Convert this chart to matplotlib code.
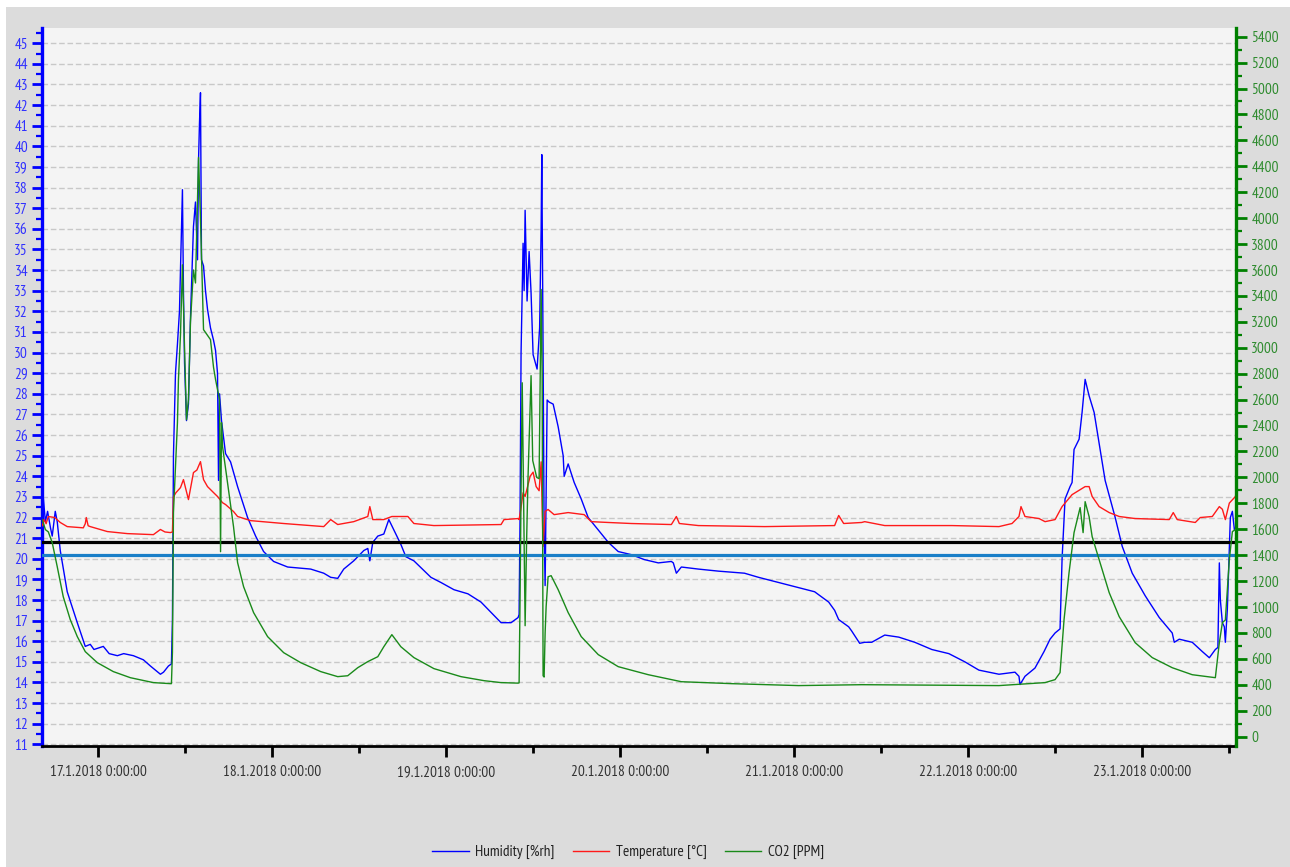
import matplotlib
matplotlib.use('Agg')
import matplotlib.pyplot as plt
from matplotlib.patches import Rectangle
from matplotlib.ticker import MultipleLocator, FixedLocator

plt.rcParams['font.family'] = ['PT Sans Narrow', 'Liberation Sans', 'DejaVu Sans']

# ---------------- data (time in hours since 17.1.2018 0:00) ----------------
hum_t = [-7.74, -7.6, -7.3, -7.0, -6.6, -6.36, -5.94, -5.67, -5.25, -4.29, -2.9, -1.8, -1.11, -0.6,
         0.69, 1.5, 2.63, 3.5, 4.84, 6.22, 7.19, 8.57, 9.0, 9.68, 10.09, 10.23, 10.37, 10.65, 10.92,
         11.2, 11.45, 11.61, 11.75, 11.9, 12.17, 12.44, 12.72, 13.13, 13.41, 13.69, 13.83, 13.96,
         14.10, 14.24, 14.52, 14.79, 15.07, 15.48, 15.9, 16.18, 16.45, 16.59, 16.73, 17.0, 17.56,
         18.25, 19.22, 20.6, 21.71, 22.81, 24.19, 26.13, 29.31, 31.11, 32.07, 33.04, 33.87, 35.25,
         36.64, 37.19, 37.47, 37.88, 38.57, 39.4, 40.09, 40.78, 41.75, 42.44, 43.55, 45.9, 47.28,
         49.08, 51.01, 52.81, 54.19, 55.58, 56.96, 57.93, 58.07, 58.2, 58.34, 58.62, 58.76, 58.9,
         59.17, 59.45, 59.72, 60.0, 60.55, 60.9, 61.11, 61.2, 61.38, 61.52, 61.66, 61.8, 61.94,
         62.21, 62.77, 63.46, 64.15, 64.29, 64.84, 65.67, 66.64, 67.6, 68.99, 70.37, 71.75, 73.55,
         75.35, 77.28, 79.08, 79.35, 79.77, 80.46, 82.81, 85.58, 89.17, 91.11, 93.32, 96.08, 98.85,
         100.79, 101.61, 102.17, 103.55, 103.96, 105.07, 105.76, 106.73, 108.53, 110.46, 112.67,
         115.02, 117.37, 119.59, 121.52, 124.29, 126.5, 127.05, 127.19, 127.88, 129.26, 130.51,
         131.34, 132.03, 132.72, 133.0, 133.41, 134.1, 134.38, 134.65, 135.35, 135.76, 136.18,
         136.73, 137.42, 138.11, 138.94, 140.33, 141.3, 142.68, 144.48, 146.41, 148.2, 148.48,
         149.17, 150.96, 152.35, 153.32, 154.15, 154.5, 154.7, 154.84, 155.12, 155.39, 155.53,
         155.8, 156.08, 156.22, 156.5, 156.78, 157.1, 157.33]
hum_v = [22.6, 23.0, 21.8, 22.3, 21.5, 21.1, 22.3, 21.8, 20.4, 18.4, 16.9, 15.75, 15.85, 15.6,
         15.75, 15.4, 15.3, 15.4, 15.3, 15.1, 14.8, 14.4, 14.5, 14.8, 14.9, 17.0, 25.0, 29.0, 30.4,
         32.0, 35.5, 37.9, 33.0, 29.5, 26.7, 27.5, 31.7, 36.1, 37.3, 34.5, 39.3, 41.1,
         42.6, 34.5, 34.2, 33.0, 32.1, 31.2, 30.6, 30.1, 29.0, 23.8, 28.0, 26.7, 25.1,
         24.7, 23.5, 22.0, 21.1, 20.35, 19.87, 19.6, 19.5, 19.3, 19.1, 19.05, 19.5, 19.9,
         20.4, 20.5, 19.9, 20.8, 21.1, 21.2, 21.9, 21.4, 20.7, 20.1, 19.9, 19.1, 18.85,
         18.5, 18.3, 17.9, 17.4, 16.9, 16.9, 17.15, 17.3, 22.0, 30.0, 35.3, 33.0, 36.9,
         32.5, 34.9, 32.9, 29.9, 29.2, 31.2, 36.0, 39.6, 30.0, 21.5, 18.7, 23.0, 27.7,
         27.6, 27.5, 26.4, 25.0, 24.0, 24.6, 23.7, 22.9, 22.0, 21.4, 20.8, 20.35, 20.2,
         19.96, 19.8, 19.87, 19.8, 19.3, 19.6, 19.5, 19.4, 19.3, 19.1, 18.9, 18.65, 18.4,
         17.9, 17.5, 17.05, 16.7, 16.5, 15.9, 15.95, 15.95, 16.3, 16.2, 15.95,
         15.6, 15.4, 15.0, 14.6, 14.4, 14.5, 14.3, 13.9, 14.3, 14.7, 15.5,
         16.1, 16.4, 16.6, 20.0, 22.9, 23.5, 23.7, 25.3, 25.8, 27.1, 28.7,
         27.9, 27.1, 25.6, 23.8, 22.0, 20.6, 19.3, 18.2, 17.15, 16.4, 15.95,
         16.1, 15.95, 15.5, 15.2, 15.6, 15.7, 19.8, 18.0, 16.9, 16.7, 15.95,
         17.5, 20.6, 22.0, 22.3, 21.4, 21.6, 23.2]

temp_t = [-7.74, -7.47, -7.2, -6.91, -6.0, -5.25, -4.29, -2.07, -1.8, -1.66, -1.4, -1.11, 1.24,
          4.01, 7.6, 8.57, 9.2, 9.95, 10.23, 10.37, 10.7, 11.34, 11.75, 12.44, 13.13, 13.6, 14.1,
          14.52, 15.07, 15.9, 16.45, 17.14, 17.56, 18.66, 19.22, 21.01, 25.58, 31.11, 32.07, 33.04,
          35.25, 37.19, 37.47, 37.88, 39.4, 40.51, 42.72, 43.55, 46.31, 55.58, 55.99, 57.93, 58.07,
          58.34, 58.62, 58.9, 59.31, 59.59, 60.0, 60.42, 60.83, 61.11, 61.25, 61.38, 61.52, 61.66,
          62.07, 62.9, 64.84, 67.05, 68.02, 70.37, 73.55, 79.08, 79.77, 80.18, 82.81, 91.94, 101.61,
          102.17, 102.86, 105.35, 105.76, 108.53, 117.79, 124.29, 126.09, 127.05, 127.33, 127.88,
          129.82, 130.65, 132.03, 133.0, 134.38, 136.18, 136.73, 137.15, 138.11, 139.5, 140.88,
          143.09, 147.79, 148.34, 148.89, 151.38, 152.07, 153.73, 154.7, 155.12, 155.53, 156.08,
          156.92, 157.33]
temp_v = [21.6, 21.9, 21.7, 22.05, 22.0, 21.76, 21.56, 21.5, 21.7, 22.0, 21.6, 21.56, 21.32,
          21.22, 21.17, 21.42, 21.3, 21.27, 21.3, 23.0, 23.2, 23.45, 23.84, 22.87, 24.18, 24.3, 24.71,
          23.84, 23.5, 23.21, 23.02, 22.72, 22.63, 22.29, 22.05, 21.85, 21.71, 21.56, 21.9, 21.66,
          21.8, 22.05, 22.53, 21.9, 21.9, 22.05, 22.05, 21.71, 21.61, 21.66, 21.9, 21.95, 21.9,
          22.5, 23.2, 23.02, 23.6, 24.0, 24.2, 23.5, 23.3, 24.7, 22.5, 20.6, 21.5, 22.3,
          22.39, 22.14, 22.24, 22.14, 21.8, 21.76, 21.71, 21.66, 22.05, 21.71, 21.61, 21.56, 21.61,
          22.1, 21.71, 21.76, 21.8, 21.61, 21.61, 21.56, 21.71, 22.05, 22.53, 22.05,
          21.95, 21.8, 21.9, 22.53, 23.11, 23.5, 23.5, 23.02, 22.53, 22.24, 22.05,
          21.95, 21.9, 22.24, 21.9, 21.76, 22.0, 22.05, 22.53, 22.4, 21.9, 22.7,
          23.02, 23.7]

co2_t = [-7.74, -7.3, -6.9, -6.36, -5.67, -4.84, -3.87, -2.9, -1.8, -0.14, 2.07, 4.42, 7.6, 9.95,
         10.09, 10.23, 10.37, 10.92, 11.06, 11.34, 11.61, 11.9, 12.17, 12.44, 12.72, 13.13, 13.41,
         13.83, 14.1, 14.52, 15.48, 15.9, 16.18, 16.73, 16.87, 17.0, 17.14, 17.83, 18.66, 19.22,
         20.05, 21.43, 23.36, 25.58, 27.93, 30.69, 33.04, 34.42, 35.8, 37.19, 38.57, 39.4, 40.51,
         41.75, 43.55, 46.31, 50.05, 53.23, 55.58, 57.93, 58.07, 58.2, 58.34, 58.5, 58.9, 59.1,
         59.3, 59.72, 59.95, 60.5, 60.83, 61.11, 61.25, 61.38, 61.52, 61.66, 61.8, 62.07, 62.49,
         63.46, 64.84, 66.64, 68.99, 71.75, 75.9, 80.46, 87.38, 96.64, 105.35, 124.29, 130.65,
         132.03, 132.72, 133.27, 133.96, 134.65, 135.49, 135.9, 136.18, 136.73, 137.15, 138.11,
         139.5, 140.88, 143.09, 145.44, 148.2, 150.96, 154.15, 154.7, 155.12, 155.53, 156.08,
         156.5, 157.33]
co2_v = [1675, 1597, 1580, 1497, 1312, 1080, 903, 772, 656, 571, 502, 455, 417, 409,
         409, 650, 1728, 2423, 2755, 3100, 3640, 3000, 2445, 2600, 3200, 3600, 3500,
         4468, 4000, 3140, 3063, 2850, 2755, 2600, 1427, 2423, 2240, 1960, 1620, 1343,
         1157, 957, 772, 648, 571, 502, 463, 470, 532, 579, 617, 694, 787,
         694, 610, 525, 463, 432, 417, 413, 415, 1060, 1900, 2730, 856, 1500,
         2000, 2785, 2130, 2000, 1990, 3450, 2800, 470, 460, 800, 1003, 1234, 1242,
         1134, 957, 772, 633, 540, 478, 424, 409, 394, 401, 394, 417,
         440, 494, 903, 1265, 1574, 1767, 1574, 1813, 1697, 1543, 1366,
         1111, 926, 725, 610, 532, 478, 455, 725, 880, 900, 1366,
         1582, 1613]

co2_limits = [1500, 1400]

day_hours = [0, 24, 48, 72, 96, 120, 144]
day_labels = ['17.1.2018 0:00:00', '18.1.2018 0:00:00', '19.1.2018 0:00:00', '20.1.2018 0:00:00',
              '21.1.2018 0:00:00', '22.1.2018 0:00:00', '23.1.2018 0:00:00']
series_names = ['Humidity [%rh]', 'Temperature [°C]', 'CO2 [PPM]']

# ---------------- figure ----------------
W, H = 1290, 867
fig = plt.figure(figsize=(W / 100, H / 100), dpi=100)
fig.patch.set_facecolor('white')
fig.add_artist(Rectangle((6 / W, 0), 1, (H - 7) / H, transform=fig.transFigure,
                         facecolor='#dcdcdc', edgecolor='none', zorder=-10))

ax1 = fig.add_axes([42 / W, (H - 746) / H, (1236 - 42) / W, (746 - 28) / H])
ax1.set_facecolor('#f4f4f4')
ax2 = ax1.twinx()

ax1.set_xlim(-7.77, 157.0)
ax1.set_ylim(10.92, 45.74)
ax2.set_ylim(-72, 5467)

blue_line = '#0000ff'
red_line = '#ff1a1a'
green_line = '#1a8a1a'

for y, c in zip(co2_limits, ['black', '#1a7fc8']):
    ax2.axhline(y, color=c, lw=2.3, zorder=1)

l1, = ax1.plot(hum_t, hum_v, color=blue_line, lw=1.0, zorder=3)
l2, = ax1.plot(temp_t, temp_v, color=red_line, lw=1.0, zorder=3)
l3, = ax2.plot(co2_t, co2_v, color=green_line, lw=1.0, zorder=3)

# grid
ax1.yaxis.set_major_locator(MultipleLocator(1))
ax1.yaxis.set_minor_locator(MultipleLocator(0.5))
ax1.grid(axis='y', which='major', color='#c8c8c8', ls=(0, (4, 2)), lw=1.0)
ax1.set_axisbelow(True)

# spines
for s in ['top', 'right']:
    ax1.spines[s].set_visible(False)
ax1.spines['left'].set_color('#0000ff')
ax1.spines['left'].set_linewidth(2.4)
ax1.spines['bottom'].set_color('black')
ax1.spines['bottom'].set_linewidth(2.0)
for s in ['top', 'left', 'bottom']:
    ax2.spines[s].set_visible(False)
ax2.spines['right'].set_color('#008000')
ax2.spines['right'].set_linewidth(2.4)

# y ticks
ax1.tick_params(axis='y', which='major', length=7, width=2, color='#0000ff',
                labelcolor='#3030ff', labelsize=11, pad=3)
ax1.tick_params(axis='y', which='minor', length=4, width=1.6, color='#0000ff')
ax2.yaxis.set_major_locator(MultipleLocator(200))
ax2.yaxis.set_minor_locator(MultipleLocator(100))
ax2.tick_params(axis='y', which='major', length=8, width=2, color='#008000',
                labelcolor='#2e8b2e', labelsize=11, pad=3)
ax2.tick_params(axis='y', which='minor', length=4, width=1.6, color='#008000')

# x ticks
ax1.xaxis.set_major_locator(FixedLocator(day_hours))
ax1.set_xticklabels(day_labels)
ax1.xaxis.set_minor_locator(MultipleLocator(12))
ax1.tick_params(axis='x', which='major', length=8, width=2, color='black',
                labelcolor='#333333', labelsize=11, pad=6)
ax1.tick_params(axis='x', which='minor', length=5, width=2, color='black')

fig.legend([l1, l2, l3], series_names, loc='center',
           bbox_to_anchor=(628 / W, (H - 852) / H), ncol=3, frameon=False,
           fontsize=11, handlelength=2.4, handletextpad=0.4, columnspacing=1.2,
           labelcolor='#222222')

fig.savefig('out.png', dpi=100, facecolor=fig.get_facecolor())
